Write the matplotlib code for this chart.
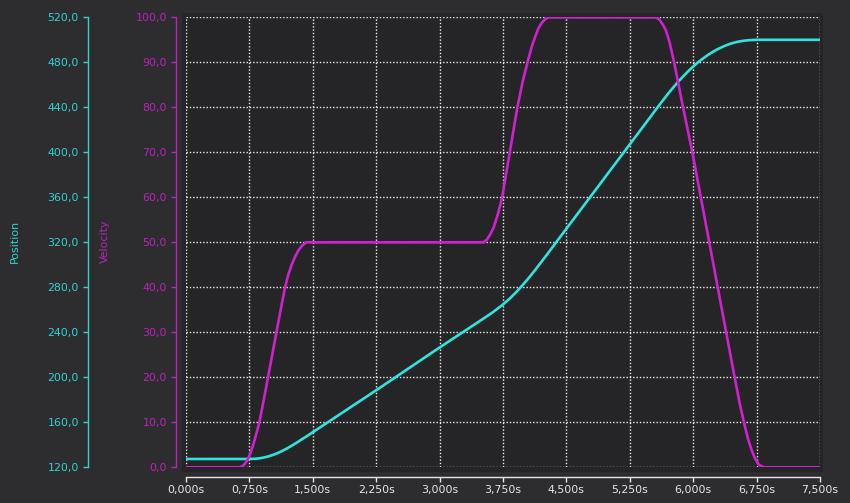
import matplotlib

matplotlib.use("Agg")
import matplotlib.pyplot as plt
from matplotlib.patches import Rectangle
from matplotlib.ticker import FuncFormatter

# Velocity profile (time in s, velocity in units/s)
vel_t = [0.00, 0.64, 0.68, 0.72, 0.76, 0.80, 0.84, 0.87, 0.92, 0.97, 1.02, 1.07,
         1.12, 1.17, 1.21, 1.25, 1.29, 1.33, 1.37, 1.42, 3.515, 3.56, 3.60, 3.64,
         3.69, 3.74, 3.83, 3.92, 3.98, 4.04, 4.09, 4.135, 4.17, 4.21, 4.25, 4.29,
         5.556, 5.60, 5.64, 5.675, 5.72, 5.774, 5.88, 5.99, 6.09, 6.19, 6.29, 6.39,
         6.49, 6.55, 6.60, 6.65, 6.69, 6.73, 6.78, 6.84, 7.50]
vel_v = [0.0, 0.0, 0.4, 1.4, 3.0, 5.3, 8.0, 10.2, 15.0, 20.0, 25.0, 30.0,
         35.0, 39.8, 42.8, 45.0, 46.8, 48.2, 49.2, 50.0, 50.0, 50.6, 51.8, 53.3,
         56.3, 60.0, 70.0, 80.0, 85.5, 90.0, 93.5, 95.9, 97.6, 98.8, 99.6, 100.0,
         100.0, 99.5, 98.4, 97.2, 94.5, 90.0, 80.0, 70.0, 60.0, 50.0, 40.0, 30.0,
         20.0, 14.2, 10.0, 6.2, 3.9, 2.0, 0.5, 0.0, 0.0]

# Position profile
pos_t = [0.00, 0.64, 0.75, 0.82, 0.87, 0.92, 0.97, 1.02, 1.07, 1.12, 1.17, 1.21,
         1.25, 1.29, 1.33, 1.37, 1.42, 2.25, 3.00, 3.515, 3.58, 3.64, 3.69, 3.74,
         3.83, 3.92, 3.98, 4.04, 4.09, 4.135, 4.17, 4.21, 4.25, 4.29, 5.25, 5.556,
         5.60, 5.64, 5.675, 5.72, 5.774, 5.83, 5.88, 5.94, 5.99, 6.04, 6.09, 6.14,
         6.19, 6.24, 6.29, 6.34, 6.39, 6.44, 6.49, 6.55, 6.60, 6.65, 6.69, 6.76,
         6.84, 7.50]
pos_p = [127.4, 127.4, 127.4, 127.6, 128.0, 128.7, 129.6, 130.8, 132.2, 133.9, 135.8, 137.4,
         139.2, 141.0, 142.9, 144.9, 147.2, 188.5, 226.5, 252.0, 255.3, 258.4, 261.3, 264.1,
         270.0, 276.8, 281.8, 287.0, 291.6, 295.8, 299.3, 303.2, 307.1, 311.1, 407.1, 437.7,
         442.1, 446.0, 449.4, 453.7, 458.5, 463.3, 467.4, 472.0, 475.6, 478.9, 481.9, 484.7,
         487.3, 489.6, 491.7, 493.5, 495.1, 496.5, 497.6, 498.6, 499.2, 499.6, 499.8, 500.0,
         500.0, 500.0]

x_ticks = [0.0, 0.75, 1.5, 2.25, 3.0, 3.75, 4.5, 5.25, 6.0, 6.75, 7.5]

BG_OUT = "#2d2d30"
BG_IN = "#252527"
CYAN = "#2ee4dc"
CYAN_TXT = "#32d2d2"
MAGENTA = "#d020d0"
MAGENTA_TXT = "#bb22bb"
WHITE = "#e6e6e6"
FS = 7.9

px = 72.0 / 100.0  # points per pixel at dpi 100

fig = plt.figure(figsize=(8.5, 5.03), dpi=100, facecolor=BG_OUT)
W, H = 850.0, 503.0

# darker plot panel, behind everything
fig.patches.append(Rectangle((182 / W, (H - 472) / H), (823 - 182) / W, (472 - 12.7) / H,
                             transform=fig.transFigure, facecolor=BG_IN,
                             edgecolor="none", zorder=-10))

rect = [186 / W, (H - 467.3) / H, 634 / W, 450 / H]
ax = fig.add_axes(rect)  # position axes, carries grid and x axis
ax2 = fig.add_axes(rect, sharex=ax)  # velocity axes on top
for a in (ax, ax2):
    a.set_facecolor("none")
    for s in ("top", "right"):
        a.spines[s].set_visible(False)

# position
ax.plot(pos_t, pos_p, color=CYAN, lw=1.9, solid_capstyle="round")
ax.set_ylim(120, 520)
ax.set_xlim(0, 7.5)
ax.set_yticks(range(120, 521, 40))
ax.set_xticks(x_ticks)
ax.yaxis.set_major_formatter(FuncFormatter(lambda v, p: f"{v:.1f}".replace(".", ",")))
ax.xaxis.set_major_formatter(FuncFormatter(lambda v, p: f"{v:.3f}s".replace(".", ",")))
ax.spines["left"].set_position(("outward", 98 * px))
ax.spines["left"].set_color(CYAN_TXT)
ax.spines["left"].set_linewidth(1.0)
ax.spines["bottom"].set_position(("outward", 10 * px))
ax.spines["bottom"].set_color(WHITE)
ax.spines["bottom"].set_linewidth(1.0)
ax.tick_params(axis="y", colors=CYAN_TXT, labelsize=FS, length=5 * px, width=1.0, pad=3)
ax.tick_params(axis="x", colors=WHITE, labelsize=FS, length=5 * px, width=1.0, pad=2)
ax.grid(True, color="#f0f0f0", linestyle=(0, (1, 1.4)), linewidth=1.0)
ax.set_axisbelow(True)

# velocity
ax2.plot(vel_t, vel_v, color=MAGENTA, lw=1.9, solid_capstyle="round")
ax2.set_ylim(0, 100)
ax2.set_yticks(range(0, 101, 10))
ax2.yaxis.set_major_formatter(FuncFormatter(lambda v, p: f"{v:.1f}".replace(".", ",")))
ax2.spines["bottom"].set_visible(False)
ax2.spines["left"].set_position(("outward", 10 * px))
ax2.spines["left"].set_color(MAGENTA_TXT)
ax2.spines["left"].set_linewidth(1.0)
ax2.tick_params(axis="y", colors=MAGENTA_TXT, labelsize=FS, length=5 * px, width=1.0, pad=3)
ax2.tick_params(axis="x", bottom=False, labelbottom=False)

fig.text(15 / W, 1 - 241 / H, "Position", color=CYAN_TXT, fontsize=FS,
         rotation=90, ha="center", va="center")
fig.text(105 / W, 1 - 241 / H, "Velocity", color=MAGENTA_TXT, fontsize=FS,
         rotation=90, ha="center", va="center")

fig.savefig("out.png", dpi=100, facecolor=BG_OUT)
